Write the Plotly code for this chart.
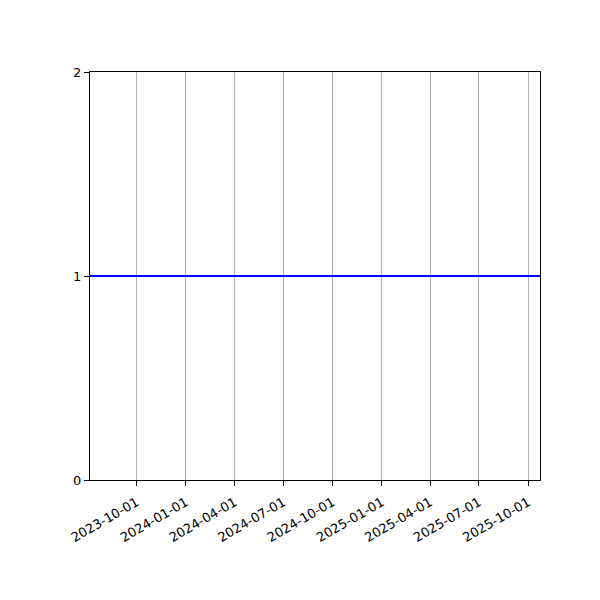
import plotly.graph_objects as go

dates = ["2023-07-06", "2025-10-23"]
values = [1, 1]
x_ticks = ["2023-10-01", "2024-01-01", "2024-04-01", "2024-07-01", "2024-10-01",
           "2025-01-01", "2025-04-01", "2025-07-01", "2025-10-01"]
y_ticks = [0, 1, 2]

fig = go.Figure()
fig.add_trace(go.Scatter(x=dates, y=values, mode="lines",
                         line=dict(color="#0000ff", width=2), showlegend=False))

fig.update_layout(
    width=600, height=600,
    margin=dict(l=82, r=68, t=64, b=128),
    paper_bgcolor="white", plot_bgcolor="white",
    font=dict(family="DejaVu Sans", size=13, color="black"),
)
fig.update_xaxes(
    type="date", range=[dates[0], dates[-1]],
    tickmode="array", tickvals=x_ticks, ticktext=x_ticks,
    tickangle=-30, ticks="outside", ticklen=5, tickwidth=1, tickcolor="black",
    ticklabelstandoff=4,
    showline=True, linecolor="black", linewidth=1, mirror=True,
    showgrid=True, gridcolor="#b0b0b0", gridwidth=1, zeroline=False,
)
fig.update_yaxes(
    range=[0, 2], tickmode="array", tickvals=y_ticks,
    ticks="outside", ticklen=5, tickwidth=1, tickcolor="black",
    showline=True, linecolor="black", linewidth=1, mirror=True,
    showgrid=False, zeroline=False,
)
fig.write_html("out.html")
